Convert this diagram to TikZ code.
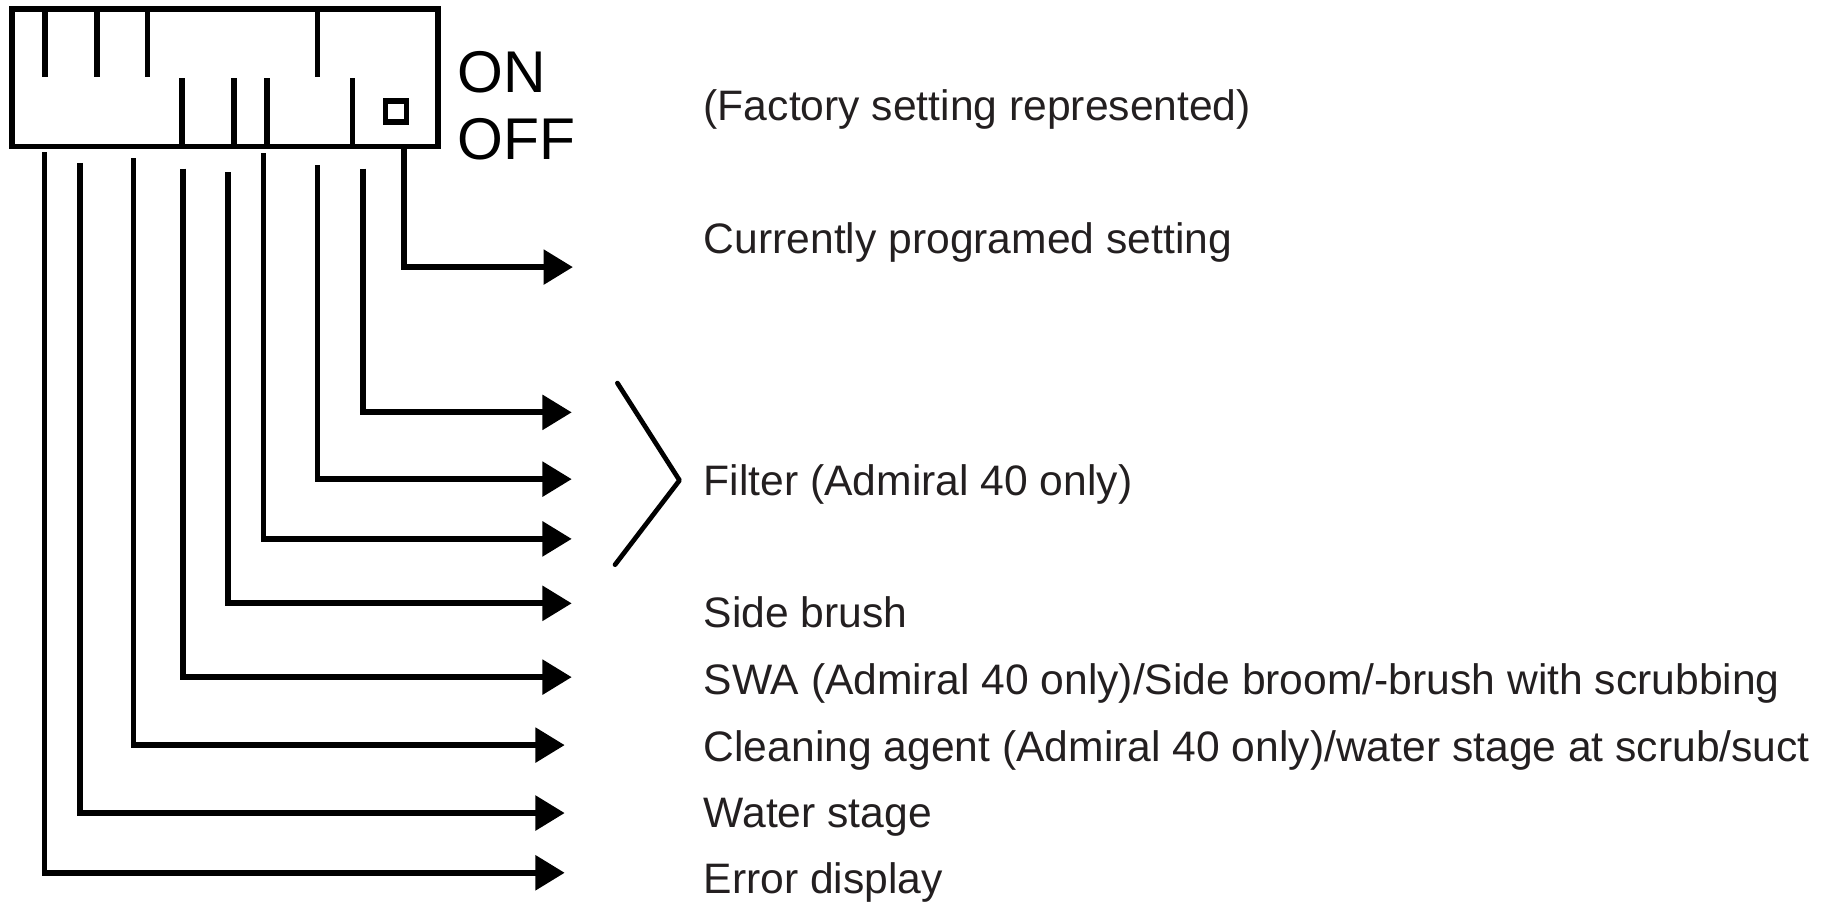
\documentclass[tikz,border=0pt]{standalone}
\usepackage{fontspec}
\setmainfont{Liberation Sans}
\usetikzlibrary{positioning,arrows.meta}
\definecolor{inkgray}{RGB}{35,31,32}

\begin{document}
\begin{tikzpicture}[
  swbox/.style={draw, line width=1.4pt, minimum width=3.64cm, minimum height=1.17cm, inner sep=0pt},
  lever/.style={line width=1.35pt},
  lead/.style={line width=1.4pt, -{Triangle[length=2.5mm,width=2.9mm]}},
  lbl/.style={anchor=base west, inner sep=0pt, text=inkgray, font=\fontsize{10.35}{12}\selectfont},
  onoff/.style={anchor=base west, inner sep=0pt, font=\fontsize{14.3}{16}\selectfont}]
  \useasboundingbox (0,0) rectangle (15.68,7.72);
  % DIP switch
  \node[swbox] (sw) at (1.92,7.055) {};
  \draw[lever] (0.385,7.64) -- (0.385,7.06);
  \draw[lever] (0.83,7.64) -- (0.83,7.06);
  \draw[lever] (1.26,7.64) -- (1.26,7.06);
  \draw[lever] (2.71,7.64) -- (2.71,7.06);
  \draw[lever] (1.555,6.47) -- (1.555,7.05);
  \draw[lever] (1.995,6.47) -- (1.995,7.05);
  \draw[lever] (2.28,6.47) -- (2.28,7.05);
  \draw[lever] (3.01,6.47) -- (3.01,7.05);
  \node[draw, line width=1.4pt, minimum size=0.18cm, inner sep=0pt] (sq) at (3.38,6.77) {};
  \node[onoff] (on)  at (3.90,6.93) {ON};
  \node[onoff] (off) at (3.90,6.36) {OFF};
  % lead starts and arrow tips
  \coordinate (s1) at (0.38,6.42);  \coordinate (t1) at (4.82,0.27);
  \coordinate (s2) at (0.685,6.33); \coordinate (t2) at (4.82,0.78);
  \coordinate (s3) at (1.14,6.37);  \coordinate (t3) at (4.82,1.36);
  \coordinate (s4) at (1.565,6.28); \coordinate (t4) at (4.88,1.94);
  \coordinate (s5) at (1.945,6.25); \coordinate (t5) at (4.88,2.57);
  \coordinate (s6) at (2.25,6.41);  \coordinate (t6) at (4.88,3.12);
  \coordinate (s7) at (2.71,6.31);  \coordinate (t7) at (4.88,3.63);
  \coordinate (s8) at (3.10,6.28);  \coordinate (t8) at (4.88,4.20);
  \coordinate (s9) at (3.45,6.47);  \coordinate (t9) at (4.89,5.44);
  \draw[lead] (s1) |- (t1);
  \draw[lead] (s2) |- (t2);
  \draw[lead] (s3) |- (t3);
  \draw[lead] (s4) |- (t4);
  \draw[lead] (s5) |- (t5);
  \draw[lead] (s6) |- (t6);
  \draw[lead] (s7) |- (t7);
  \draw[lead] (s8) |- (t8);
  \draw[lead] (s9) |- (t9);
  % filter bracket
  \coordinate (b1) at (5.27,4.45);
  \coordinate (b2) at (5.80,3.62);
  \coordinate (b3) at (5.25,2.90);
  \draw[line width=1.15pt, line cap=round, line join=round] (b1) -- (b2) -- (b3);
  % labels
  \node[lbl] (fac) at (6.00,6.69) {(Factory setting represented)};
  \node[lbl] (cur) at (6.00,5.56) {Currently programed setting};
  \node[lbl] (fil) at (6.00,3.49) {Filter (Admiral 40 only)};
  \node[lbl] (sbr) at (6.00,2.36) {Side brush};
  \node[lbl] (swa) at (6.00,1.79) {SWA (Admiral 40 only)/Side broom/-brush with scrubbing};
  \node[lbl] (cle) at (6.00,1.22) {Cleaning agent (Admiral 40 only)/water stage at scrub/suct};
  \node[lbl] (wat) at (6.00,0.66) {Water stage};
  \node[lbl] (err) at (6.00,0.09) {Error display};
\end{tikzpicture}
\end{document}
